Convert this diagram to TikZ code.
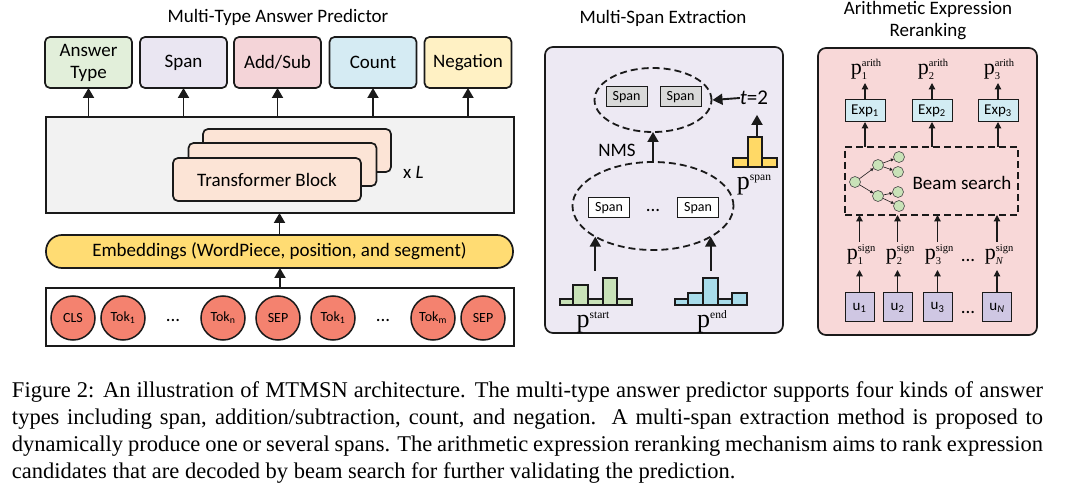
\documentclass[tikz,border=0pt]{standalone}
\usepackage{fontspec}
\setmainfont{Liberation Serif}
\newfontfamily\calfont{Carlito}
\usetikzlibrary{arrows.meta,shapes.geometric}
\definecolor{cAns}{HTML}{E2EFDA}
\definecolor{cSpan}{HTML}{EAE6F2}
\definecolor{cAdd}{HTML}{F4D4D8}
\definecolor{cCount}{HTML}{D5EBF3}
\definecolor{cNeg}{HTML}{FFF1C4}
\definecolor{cGray}{HTML}{F2F2F2}
\definecolor{cTrans}{HTML}{FCE4D6}
\definecolor{cEmb}{HTML}{FFDC73}
\definecolor{cTok}{HTML}{F4826F}
\definecolor{cMid}{HTML}{EDE9F3}
\definecolor{cSpanG}{HTML}{D9D9D9}
\definecolor{cGreen}{HTML}{C9E2B8}
\definecolor{cBlue}{HTML}{A8DCEA}
\definecolor{cYel}{HTML}{FFD966}
\definecolor{cRight}{HTML}{F8D8D8}
\definecolor{cExp}{HTML}{D2ECF3}
\definecolor{cU}{HTML}{CFC7E3}
\definecolor{cLine}{HTML}{1A1A1A}
% p with superscript #1 and subscript #2; p size #3, script size #4
\newcommand{\pss}[4]{{\fontsize{#3}{#3}\selectfont p}{\fontsize{#4}{#4}\selectfont\raisebox{-4.5pt}{\rlap{#2}}\raisebox{0.8em}{#1}}}
\begin{document}
\begin{tikzpicture}[x=1pt,y=-1pt,
  every node/.style={inner sep=0pt, outer sep=0pt},
  outbox/.style={draw=cLine, line width=1.7pt, rounded corners=5pt, minimum width=87pt, minimum height=51pt, font=\calfont\fontsize{19}{22}\selectfont, align=center},
  titletxt/.style={font=\calfont\fontsize{19}{22}\selectfont, align=center},
  tblock/.style={draw=cLine, line width=1.7pt, rounded corners=5pt, fill=cTrans, minimum width=188pt, minimum height=43pt},
  tok/.style={circle, draw=cLine, line width=1.5pt, fill=cTok, minimum size=44pt, font=\calfont\fontsize{14}{14}\selectfont},
  arr/.style={-{Triangle[length=10pt,width=11pt]}, line width=1.9pt, draw=cLine},
  marr/.style={-{Triangle[length=10pt,width=11pt]}, line width=1.9pt, draw=cLine},
  sarr/.style={-{Triangle[length=6.5pt,width=6.5pt]}, line width=1.2pt, draw=cLine},
  tarr/.style={-{Triangle[length=3pt,width=3pt]}, line width=0.6pt, draw=cLine},
  dell/.style={ellipse, draw=cLine, line width=1.8pt, dash pattern=on 7pt off 4pt},
  spanbox/.style={draw=cLine, line width=1pt, minimum width=41pt, minimum height=20pt, font=\calfont\fontsize{14}{14}\selectfont},
  histbar/.style={draw=cLine, line width=1.2pt},
  panel/.style={draw=cLine, line width=1.7pt, rounded corners=8pt},
  smallbox/.style={draw=cLine, line width=1pt, font=\calfont\fontsize{15}{15}\selectfont},
  tnode/.style={circle, draw=cLine!80, line width=0.6pt, fill=cGreen, minimum size=11pt},
  lab/.style={font=\calfont\fontsize{19}{19}\selectfont},
  plab/.style={anchor=base},
  captxt/.style={anchor=base west, font=\fontsize{22.5}{27}\selectfont}
]
\useasboundingbox (0,0) rectangle (1080,489);

% ---------------- Left: Multi-Type Answer Predictor
\node[titletxt] (t1) at (278,17) {Multi-Type Answer Predictor};
\node[outbox, fill=cAns] (oa) at (88.5,62.5) {Answer\\Type};
\node[outbox, fill=cSpan] (os) at (183.5,62.5) {Span};
\node[outbox, fill=cAdd] (oadd) at (277.5,62.5) {Add/Sub};
\node[outbox, fill=cCount] (oc) at (373,62.5) {Count};
\node[outbox, fill=cNeg] (on) at (468,62.5) {Negation};

\node[draw=cLine, line width=1.7pt, fill=cGray, minimum width=468pt, minimum height=96pt] (gray) at (280,165) {};
\node[tblock] (tb3) at (297,150.5) {};
\node[tblock] (tb2) at (282.5,164.5) {};
\node[tblock, font=\calfont\fontsize{19}{19}\selectfont] (tb1) at (267,179.5) {Transformer Block};
\node[lab, anchor=west] (xl) at (403,172) {x \textit{L}};

\foreach \o in {oa,os,oadd,oc,on}
  \draw[arr] (\o.south |- gray.north) -- (\o.south);

\node[draw=cLine, line width=1.7pt, fill=cEmb, rounded corners=16pt, minimum width=467pt, minimum height=33pt, font=\calfont\fontsize{19}{19}\selectfont] (emb) at (279.5,251.5) {Embeddings (WordPiece, position, and segment)};
\node[draw=cLine, line width=1.7pt, fill=white, minimum width=468pt, minimum height=58pt] (toks) at (280,317) {};
\draw[arr] (emb.north) -- (emb.north |- gray.south);
\draw[arr] (toks.north) -- (toks.north |- emb.south);

\node[tok] (k1) at (73,318) {CLS};
\node[tok] (k2) at (123,318) {Tok\textsubscript{1}};
\node[lab] (d1) at (173,320) {...};
\node[tok] (k3) at (223,318) {Tok\textsubscript{n}};
\node[tok] (k4) at (278,318) {SEP};
\node[tok] (k5) at (333,318) {Tok\textsubscript{1}};
\node[lab] (d2) at (383,320) {...};
\node[tok] (k6) at (433,318) {Tok\textsubscript{m}};
\node[tok] (k7) at (483,318) {SEP};

% ---------------- Middle: Multi-Span Extraction
\node[titletxt] (t2) at (663,18) {Multi-Span Extraction};
\node[panel, fill=cMid, minimum width=238pt, minimum height=286pt] (mid) at (664,190) {};

\node[dell, minimum width=117pt, minimum height=64pt] (tell) at (653,100) {};
\node[spanbox, fill=cSpanG] (sg1) at (626.5,97) {Span};
\node[spanbox, fill=cSpanG] (sg2) at (680.5,97) {Span};
\node[lab, anchor=center, font=\calfont\fontsize{21}{21}\selectfont] (t2eq) at (754,98) {\textit{t}=2};
\coordinate (t2b) at ([yshift=-10pt]t2eq.south);
\draw[marr] (t2eq.west) -- ([xshift=1pt]tell.east);

\node[dell, minimum width=161pt, minimum height=88pt] (bell) at (653,206) {};
\node[spanbox, fill=white] (sw1) at (609,208) {Span};
\node[lab] (d3) at (653,210) {...};
\node[spanbox, fill=white] (sw2) at (698,208) {Span};
\draw[marr] (bell.north) -- (tell.south);
\node[lab] (nms) at (617,150) {NMS};

% yellow histogram
\draw[histbar, fill=cYel] (733,158) rectangle (748,167);
\draw[histbar, fill=cYel] (748,137) rectangle (762,167);
\draw[histbar, fill=cYel] (762,158) rectangle (777,167);
\coordinate (yh) at (757,136);
\draw[marr] (yh) -- (yh |- t2b);
\node[plab] (pspan) at (754,190) {\pss{span}{}{26}{11.5}};

% green histogram
\draw[histbar, fill=cGreen] (560,299) rectangle (573,305);
\draw[histbar, fill=cGreen] (573,285) rectangle (588,305);
\draw[histbar, fill=cGreen] (588,299) rectangle (603,305);
\draw[histbar, fill=cGreen] (603,278) rectangle (617,305);
\draw[histbar, fill=cGreen] (617,299) rectangle (632,305);
\coordinate (gh) at (596,271);
\draw[marr] (bell.208 |- gh) -- (bell.208);
\node[plab] (pstart) at (593,328) {\pss{start}{}{26}{11.5}};

% blue histogram
\draw[histbar, fill=cBlue] (675,299) rectangle (688,305);
\draw[histbar, fill=cBlue] (688,293) rectangle (703,305);
\draw[histbar, fill=cBlue] (703,278) rectangle (718,305);
\draw[histbar, fill=cBlue] (718,299) rectangle (732,305);
\draw[histbar, fill=cBlue] (732,293) rectangle (747,305);
\coordinate (bh) at (711,271);
\draw[marr] (bell.332 |- bh) -- (bell.332);
\node[plab] (pend) at (712,328) {\pss{end}{}{26}{11.5}};

% ---------------- Right: Arithmetic Expression Reranking
\node[titletxt] (t3) at (928,21) {Arithmetic Expression\\Reranking};
\node[panel, fill=cRight, minimum width=219pt, minimum height=287pt] (right) at (927.5,191.5) {};

\node[plab] (pa1) at (866,75) {\pss{arith}{1}{22}{10.5}};
\node[plab] (pa2) at (933,75) {\pss{arith}{2}{22}{10.5}};
\node[plab] (pa3) at (999,75) {\pss{arith}{3}{22}{10.5}};
\node[smallbox, fill=cExp, minimum width=40pt, minimum height=22pt] (e1) at (865,111) {Exp\textsubscript{1}};
\node[smallbox, fill=cExp, minimum width=40pt, minimum height=22pt] (e2) at (932,111) {Exp\textsubscript{2}};
\node[smallbox, fill=cExp, minimum width=40pt, minimum height=22pt] (e3) at (998,111) {Exp\textsubscript{3}};
\draw[sarr] (e1.north) -- (e1.north |- 0,83);
\draw[sarr] (e2.north) -- (e2.north |- 0,83);
\draw[sarr] (e3.north) -- (e3.north |- 0,83);

\node[draw=cLine, line width=1.5pt, dash pattern=on 7pt off 4pt, minimum width=173pt, minimum height=68pt] (beam) at (931.5,181) {};
\foreach \e in {e1,e2,e3}
  \draw[sarr] (\e.south |- beam.north) -- (\e.south);
\node[lab] (bs) at (962,183) {Beam search};

\node[tnode] (r0) at (855,182) {};
\node[tnode] (a1) at (878,165) {};
\node[tnode] (a2) at (878,196) {};
\node[tnode] (b1) at (899,157) {};
\node[tnode] (b2) at (898,172) {};
\node[tnode] (b3) at (898,192) {};
\node[tnode] (b4) at (899,206) {};
\draw[tarr] (r0) -- (a1);
\draw[tarr] (r0) -- (a2);
\draw[tarr] (a1) -- (b1);
\draw[tarr] (a1) -- (b2);
\draw[tarr] (a2) -- (b3);
\draw[tarr] (a2) -- (b4);

\node[plab] (ps1) at (861,260) {\pss{sign}{1}{22}{10.5}};
\node[plab] (ps2) at (900,260) {\pss{sign}{2}{22}{10.5}};
\node[plab] (ps3) at (939,260) {\pss{sign}{3}{22}{10.5}};
\node[lab] (d4) at (968,260) {...};
\node[plab] (ps4) at (999,260) {\pss{sign}{\textit{N}}{22}{10.5}};

\node[smallbox, fill=cU, minimum width=29pt, minimum height=29pt] (u1) at (859.5,307.5) {u\textsubscript{1}};
\node[smallbox, fill=cU, minimum width=29pt, minimum height=29pt] (u2) at (897.5,307.5) {u\textsubscript{2}};
\node[smallbox, fill=cU, minimum width=29pt, minimum height=29pt] (u3) at (937.5,307.5) {u\textsubscript{3}};
\node[lab] (d5) at (968,312) {...};
\node[smallbox, fill=cU, minimum width=29pt, minimum height=29pt] (u4) at (997,307.5) {u\textsubscript{\textit{N}}};

\foreach \u in {u1,u2,u3,u4}
  \draw[sarr] (\u.north) -- (\u.north |- 0,270);
\foreach \u in {u1,u2,u3,u4}
  \draw[sarr] (\u.north |- 0,242) -- (\u.north |- beam.south);

% ---------------- Caption
\node[captxt] (c1) at (12,397) {\makebox[1031pt][s]{Figure 2: An illustration of MTMSN architecture. The multi-type answer predictor supports four kinds of answer}};
\node[captxt] (c2) at (12,424) {\makebox[1031pt][s]{types including span, addition/subtraction, count, and negation.\ \ A multi-span extraction method is proposed to}};
\node[captxt] (c3) at (12,451) {\makebox[1031pt][s]{dynamically produce one or several spans. The arithmetic expression reranking mechanism aims to rank expression}};
\node[captxt] (c4) at (12,478) {candidates that are decoded by beam search for further validating the prediction.};
\end{tikzpicture}
\end{document}
